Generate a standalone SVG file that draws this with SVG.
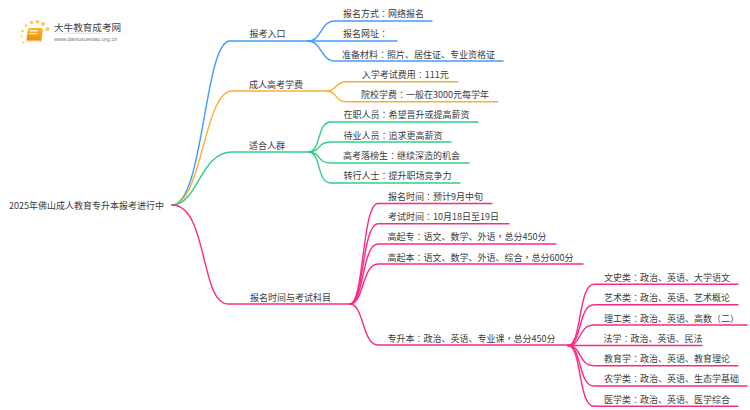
<svg xmlns="http://www.w3.org/2000/svg" width="750" height="410" viewBox="0 0 750 410">
<defs>
<linearGradient id="lg" x1="0" x2="1" y1="0" y2="0"><stop offset="0" stop-color="#ccc" stop-opacity="0"/><stop offset=".4" stop-color="#ccc"/><stop offset="1" stop-color="#ccc" stop-opacity="0"/></linearGradient>
<linearGradient id="bk" x1="0" x2="0" y1="0" y2="1"><stop offset="0" stop-color="#fdb42a"/><stop offset="1" stop-color="#f08a10"/></linearGradient>
</defs>
<style>
text{font-family:"Noto Sans CJK SC","Noto Sans CJK JP",sans-serif;font-size:9px;fill:#3a3a3a}
tspan.c{font-family:"Noto Sans CJK TC",sans-serif}
path{fill:none;stroke-width:1.400;stroke-linecap:round}
.b{stroke:#3f9dfb}.o{stroke:#fbb034}.g{stroke:#2fcf86}.p{stroke:#fb2a85}
.d{fill:#fcc64a}
</style>
<rect width="750" height="410" fill="#fff"/>
<g id="logo">
<circle class="d" cx="22.500" cy="31" r="1.300"/><circle class="d" cx="21.500" cy="36.500" r="1"/><circle class="d" cx="23.500" cy="42.500" r="1"/><circle class="d" cx="26" cy="25.500" r="1.300"/><circle class="d" cx="31.500" cy="22.500" r="1.700"/><circle class="d" cx="37.500" cy="21.700" r="1.800"/><circle class="d" cx="43" cy="24" r="1.900"/><circle class="d" cx="47.500" cy="29" r="2"/>
<rect x="27" y="28" width="15" height="14" rx="2" fill="url(#bk)" transform="skewX(-8) translate(5 0)"/>
<rect x="29" y="30" width="8" height="1.500" fill="#fff3c8" transform="skewX(-8) translate(5 0)"/><rect x="29" y="33" width="8" height="1.300" fill="#fff3c8" transform="skewX(-8) translate(5 0)"/>
<rect x="27" y="40.500" width="13" height="1.500" fill="#ffe6b0"/>
<rect x="45" y="32.800" width="88" height=".8" fill="url(#lg)"/>
<text x="54" y="30.500" style="font-size:9.600px;fill:#444">大牛教育成考网</text>
<text x="54" y="41" style="font-size:5.600px;fill:#777;font-family:'Liberation Sans',sans-serif">www.daniuxuexiao.org.cn</text>
</g>
<g id="connectors">
<path class="b" d="M172,205C204,205 204,41 230,41H308"/>
<path class="b" d="M308,41C322,41 320,21 335,21H432"/>
<path class="b" d="M308,41H397"/>
<path class="b" d="M308,41C322,41 320,61 335,61H503"/>
<path class="o" d="M172,205C202,205 204,91 232,91H327"/>
<path class="o" d="M327,91C337,91 335,81.700 346,81.700H458"/>
<path class="o" d="M327,91C337,91 335,101.700 346,101.700H498"/>
<path class="g" d="M172,205C198,205 200,152 232,152H308"/>
<path class="g" d="M308,152C322,152 316,122 331,122H478"/>
<path class="g" d="M308,152C322,152 316,142 331,142H451"/>
<path class="g" d="M308,152C322,152 316,163 331,163H469"/>
<path class="g" d="M308,152C322,152 316,183 331,183H460"/>
<path class="p" d="M172,205C208,205 200,304 228,304H350"/>
<path class="p" d="M350,304C364,304 362,203.500 378,203.500H492"/>
<path class="p" d="M350,304C364,304 362,223.700 378,223.700H509"/>
<path class="p" d="M350,304C364,304 362,244 378,244H556"/>
<path class="p" d="M350,304C364,304 362,264 378,264H583"/>
<path class="p" d="M350,304C364,304 362,345 378,345H568"/>
<path class="p" d="M568,345.500C582,345.500 578,284.300 594,284.300H738"/>
<path class="p" d="M568,345.500C582,345.500 578,304.700 594,304.700H738"/>
<path class="p" d="M568,345.500C582,345.500 578,325 594,325H747"/>
<path class="p" d="M568,345.500H702"/>
<path class="p" d="M568,345.500C582,345.500 578,365.700 594,365.700H738"/>
<path class="p" d="M568,345.500C582,345.500 578,386 594,386H747"/>
<path class="p" d="M568,345.500C582,345.500 578,406.300 594,406.300H738"/>
</g>
<g id="root"><text x="9" y="209.200">2025年佛山成人教育专升本报考进行中</text></g>
<g id="n1"><text x="249.500" y="37.200">报考入口</text></g>
<g id="n1-1"><text x="343" y="17">报名方式<tspan class="c">：</tspan>网络报名</text></g>
<g id="n1-2"><text x="343" y="37.200">报名网址<tspan class="c">：</tspan></text></g>
<g id="n1-3"><text x="342" y="57.500">准备材料<tspan class="c">：</tspan>照片、居住证、专业资格证</text></g>
<g id="n2"><text x="249" y="88">成人高考学费</text></g>
<g id="n2-1"><text x="361.700" y="78">入学考试费用<tspan class="c">：</tspan>111元</text></g>
<g id="n2-2"><text x="361" y="98">院校学费<tspan class="c">：</tspan>一般在3000元每学年</text></g>
<g id="n3"><text x="249" y="149">适合人群</text></g>
<g id="n3-1"><text x="343.500" y="118">在职人员<tspan class="c">：</tspan>希望晋升或提高薪资</text></g>
<g id="n3-2"><text x="343.500" y="138.700">待业人员<tspan class="c">：</tspan>追求更高薪资</text></g>
<g id="n3-3"><text x="343" y="159">高考落榜生<tspan class="c">：</tspan>继续深造的机会</text></g>
<g id="n3-4"><text x="343.500" y="179">转行人士<tspan class="c">：</tspan>提升职场竞争力</text></g>
<g id="n4"><text x="250" y="300.700">报名时间与考试科目</text></g>
<g id="n4-1"><text x="388" y="199.700">报名时间<tspan class="c">：</tspan>预计9月中旬</text></g>
<g id="n4-2"><text x="388" y="220">考试时间<tspan class="c">：</tspan>10月18日至19日</text></g>
<g id="n4-3"><text x="387.500" y="240">高起专<tspan class="c">：</tspan>语文、数学、外语<tspan class="c">，</tspan>总分450分</text></g>
<g id="n4-4"><text x="387.500" y="261">高起本<tspan class="c">：</tspan>语文、数学、外语、综合<tspan class="c">，</tspan>总分600分</text></g>
<g id="n4-5"><text x="387.500" y="341.700">专升本<tspan class="c">：</tspan>政治、英语、专业课<tspan class="c">，</tspan>总分450分</text></g>
<g id="n5-1"><text x="604" y="280.700">文史类<tspan class="c">：</tspan>政治、英语、大学语文</text></g>
<g id="n5-2"><text x="604" y="301">艺术类<tspan class="c">：</tspan>政治、英语、艺术概论</text></g>
<g id="n5-3"><text x="604" y="321.500">理工类<tspan class="c">：</tspan>政治、英语、高数（二）</text></g>
<g id="n5-4"><text x="603.500" y="342">法学<tspan class="c">：</tspan>政治、英语、民法</text></g>
<g id="n5-5"><text x="604" y="362">教育学<tspan class="c">：</tspan>政治、英语、教育理论</text></g>
<g id="n5-6"><text x="604" y="382">农学类<tspan class="c">：</tspan>政治、英语、生态学基础</text></g>
<g id="n5-7"><text x="604" y="403">医学类<tspan class="c">：</tspan>政治、英语、医学综合</text></g>
</svg>
